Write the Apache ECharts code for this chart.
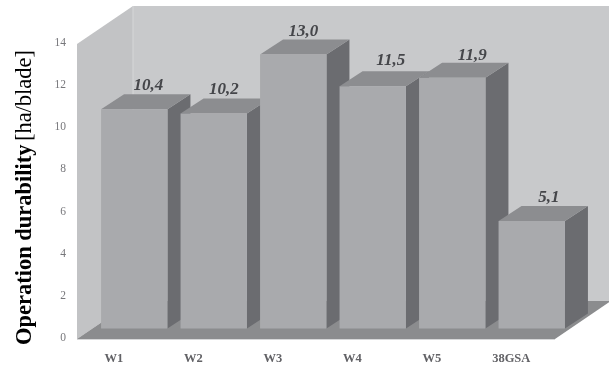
<!DOCTYPE html>
<html>
<head>
<meta charset="utf-8">
<style>html,body{margin:0;padding:0;background:#fff}#chart{width:609px;height:365px}</style>
<script src="https://cdn.jsdelivr.net/npm/echarts@6/dist/echarts.min.js"></script>
</head>
<body>
<div id="chart"></div>
<script>
// Operation durability per blade type
const categories = ['W1', 'W2', 'W3', 'W4', 'W5', '38GSA'];
const durability = [10.4, 10.2, 13.0, 11.5, 11.9, 5.1];
const yTicks = { min: 0, max: 14, interval: 2 };

// Oblique projection used for the room and the blocks
const ROOM_DEPTH = [56, -38];
const BAR_DEPTH = [23, -15];
const BAR_INSET = [20.5, -9.5];
const LABEL_OFFSET = [13, -24];
// Hand placement of the value captions above each block
const labelNudge = [[1, 0], [-3, 0], [-3, 1], [5, -2], [7, 2], [4, 1]];

const C = {
  back: '#c8c9cb', left: '#c2c3c5', floor: '#8b8c8e', edge: '#d6d7d8',
  front: '#a9aaad', top: '#8c8d90', side: '#6b6c70', value: '#45464a',
  xTick: '#626266', yTick: '#77777b'
};

const poly = (points, fill) => ({
  type: 'polygon', shape: { points }, style: { fill }, silent: true
});

// Back wall, side wall and floor behind the blocks
function renderRoom(params, api) {
  const cs = params.coordSys;
  const y0 = api.coord([0, yTicks.min])[1] + 1;
  const yT = api.coord([0, yTicks.max])[1] + 1;
  const xL = cs.x + 3, xR = cs.x + cs.width + 4;
  const [dx, dy] = ROOM_DEPTH;
  return {
    type: 'group',
    children: [
      poly([[xL + dx, yT + dy], [xR + dx, yT + dy], [xR + dx, y0 + dy], [xL + dx, y0 + dy]], C.back),
      poly([[xL, yT], [xL + dx, yT + dy], [xL + dx, y0 + dy], [xL, y0]], C.left),
      poly([[xL, y0], [xL + dx, y0 + dy], [xR + dx, y0 + dy], [xR, y0]], C.floor),
      { type: 'line', shape: { x1: xL + dx, y1: yT + dy, x2: xL + dx, y2: y0 + dy }, style: { stroke: C.edge, lineWidth: 1 }, silent: true },
      { type: 'line', shape: { x1: xL, y1: y0 + 0.5, x2: xR, y2: y0 + 0.5 }, style: { stroke: C.edge, lineWidth: 1 }, silent: true }
    ]
  };
}

// One oblique block with its value above the top face
function renderBlock(params, api) {
  const idx = api.value(0);
  const value = api.value(1);
  const [cx, yTop] = api.coord([idx, value]);
  const yBase = api.coord([idx, 0])[1] + BAR_INSET[1];
  const top = yTop + BAR_INSET[1];
  const w = api.size([1, 0])[0] * 0.835;
  const l = cx + BAR_INSET[0] - w / 2, r = l + w;
  const [dx, dy] = BAR_DEPTH;
  return {
    type: 'group',
    children: [
      poly([[r, top], [r + dx, top + dy], [r + dx, yBase + dy], [r, yBase]], C.side),
      poly([[l, top], [l + dx, top + dy], [r + dx, top + dy], [r, top]], C.top),
      poly([[l, top], [r, top], [r, yBase], [l, yBase]], C.front),
      {
        type: 'text',
        silent: true,
        style: {
          x: (l + r) / 2 + LABEL_OFFSET[0] + labelNudge[idx][0],
          y: top + LABEL_OFFSET[1] + labelNudge[idx][1],
          text: value.toFixed(1).replace('.', ','),
          align: 'center',
          verticalAlign: 'middle',
          fill: C.value,
          font: 'italic bold 17px "Liberation Serif"'
        }
      }
    ]
  };
}

const chart = echarts.init(document.getElementById('chart'), null, { renderer: 'canvas' });
chart.setOption({
  animation: false,
  backgroundColor: '#ffffff',
  grid: { left: 74, top: 43, width: 477, height: 295 },
  xAxis: {
    type: 'category',
    data: categories,
    axisLine: { show: false },
    axisTick: { show: false },
    axisLabel: {
      margin: 14,
      fontFamily: 'Liberation Serif',
      fontWeight: 'bold',
      fontSize: 12.5,
      color: C.xTick
    }
  },
  yAxis: {
    type: 'value',
    min: yTicks.min,
    max: yTicks.max,
    interval: yTicks.interval,
    splitLine: { show: false },
    axisLine: { show: false },
    axisTick: { show: false },
    axisLabel: {
      margin: 8,
      fontFamily: 'Liberation Serif',
      fontSize: 11.5,
      color: C.yTick
    },
    name: '{b|Operation durability} {r|[ha/blade]}',
    nameLocation: 'middle',
    nameRotate: 90,
    nameGap: 37,
    nameTextStyle: {
      padding: [0, 14, 0, 0],
      rich: {
        b: { fontFamily: 'Liberation Serif', fontWeight: 'bold', fontSize: 22.5, color: '#000' },
        r: { fontFamily: 'Liberation Serif', fontSize: 22.5, color: '#000' }
      }
    }
  },
  series: [
    { type: 'custom', renderItem: renderRoom, data: [[0, 0]], z: 1, silent: true },
    {
      type: 'custom',
      renderItem: renderBlock,
      encode: { x: 0, y: 1 },
      data: categories.map((c, i) => [i, durability[i]]),
      z: 2,
      clip: false
    }
  ]
});
</script>
</body>
</html>
